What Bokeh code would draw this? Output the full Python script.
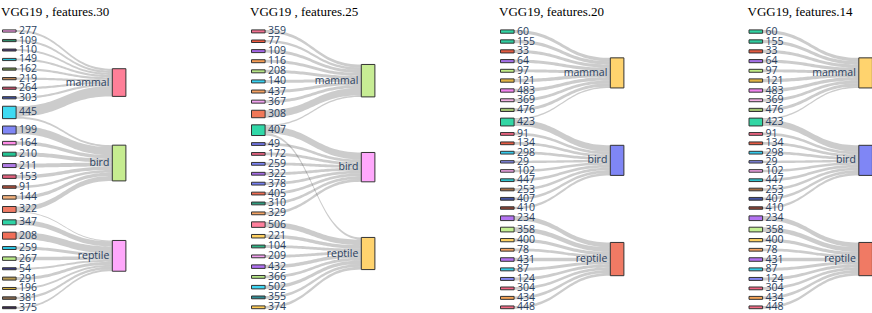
import numpy as np
from bokeh.plotting import figure
from bokeh.models import Range1d
from bokeh.core.properties import value
from bokeh.embed import file_html
from bokeh.resources import INLINE

# ---------------- data ----------------
titles = ["VGG19 , features.30", "VGG19 , features.25", "VGG19, features.20", "VGG19, features.14"]

# Panel 1 : features.30
p1_sources = ["277", "109", "110", "149", "162", "219", "264", "303", "445", "199", "164", "210", "211",
              "153", "91", "144", "322", "347", "208", "259", "267", "54", "291", "196", "381", "375"]
p1_source_colors = ["#ff9ef0", "#2e8a6a", "#4a3a78", "#20bcd6", "#6e8a48", "#c28a58", "#d4506c", "#3a4ea0",
                    "#3fdaf2", "#7f86f5", "#ff8ce8", "#22c493", "#b07be6", "#e0607c", "#b04e3a", "#f4b27c",
                    "#f07a64", "#2ed3a5", "#f06e58", "#2bc3df", "#b9e987", "#3a3a8a", "#b89b52", "#d9b23e",
                    "#8a6a4e", "#3a2a52"]
p1_targets = ["mammal", "bird", "reptile"]
p1_target_colors = ["#ff7f98", "#c6ec90", "#ffa8fb"]
p1_link_src = ["277", "109", "110", "149", "162", "219", "264", "303", "445", "445", "199", "164", "210", "211",
               "153", "91", "144", "322", "322", "347", "208", "259", "267", "54", "291", "196", "381", "375"]
p1_link_tgt = ["mammal"] * 9 + ["bird"] * 9 + ["reptile"] * 10
p1_link_val = [2.2, 2.2, 2.0, 2.2, 2.2, 2.2, 2.2, 2.2, 10.5, 2.0, 8.0, 3.5, 4.0, 4.0,
               3.5, 2.5, 3.5, 5.0, 1.0, 5.0, 7.0, 3.0, 3.5, 2.0, 3.0, 2.0, 2.5, 2.0]

# Panel 2 : features.25
p2_sources = ["359", "77", "109", "116", "208", "140", "437", "367", "308", "407", "49", "172", "259", "322",
              "378", "405", "310", "329", "506", "221", "104", "209", "432", "366", "502", "355", "374"]
p2_source_colors = ["#f07090", "#f05a40", "#a466e6", "#f59c55", "#b6e585", "#36d2f2", "#f5a060", "#f2a2f0",
                    "#f07858", "#31d8a8", "#6f74e4", "#e4607e", "#7a82f2", "#a46ae4", "#747ef0", "#f06a50",
                    "#2e9a7c", "#f4a262", "#ff7f9c", "#ffd060", "#2eb384", "#f4a0f0", "#b070f2", "#b4e484",
                    "#3ed6f2", "#2f8a92", "#ffcc55"]
p2_targets = ["mammal", "bird", "reptile"]
p2_target_colors = ["#c7ec94", "#ffa8fc", "#ffd36e"]
p2_link_src = ["359", "77", "109", "116", "208", "140", "437", "367", "308", "407",
               "407", "49", "172", "259", "322", "378", "405", "310", "329",
               "407", "506", "221", "104", "209", "432", "366", "502", "355", "374"]
p2_link_tgt = ["mammal"] * 10 + ["bird"] * 9 + ["reptile"] * 10
p2_link_val = [3.0, 2.5, 3.0, 3.0, 3.0, 3.0, 3.0, 3.0, 7.5, 1.5,
               7.0, 2.8, 2.8, 2.8, 2.8, 2.8, 2.8, 2.8, 2.8,
               2.2, 5.5, 3.5, 2.8, 2.8, 3.5, 2.8, 3.5, 2.8, 2.8]

# Panel 3 : features.20
p3_sources = ["60", "155", "33", "64", "97", "121", "483", "369", "476", "423", "91", "134", "298", "29", "102",
              "447", "253", "407", "410", "234", "358", "400", "78", "431", "87", "124", "304", "434", "448"]
p3_source_colors = ["#30d4a2", "#2fcc9e", "#e25a40", "#a470e6", "#c2ee86", "#e2b444", "#f284f0", "#f2b2e4",
                    "#a2c272", "#32d6a4", "#f26482", "#e45a42", "#34c8ea", "#8286e6", "#f2a4e6", "#30c2cc",
                    "#a06c44", "#4454a2", "#904434", "#b474f2", "#c4f094", "#ffd262", "#f5a462", "#b472f0",
                    "#34cce4", "#8488f2", "#f26482", "#f5a456", "#f26a84"]
p3_targets = ["mammal", "bird", "reptile"]
p3_target_colors = ["#ffd36e", "#7f86f5", "#f07a64"]
p3_link_src = ["60", "155", "33", "64", "97", "121", "483", "369", "476", "423",
               "423", "91", "134", "298", "29", "102", "447", "253", "407", "410",
               "234", "358", "400", "78", "431", "87", "124", "304", "434", "448"]
p3_link_tgt = ["mammal"] * 10 + ["bird"] * 10 + ["reptile"] * 10
p3_link_val = [3.4, 3.4, 3.2, 3.2, 3.0, 3.4, 3.4, 3.0, 3.2, 1.5,
               6.5, 2.8, 2.8, 2.8, 2.4, 2.6, 2.8, 2.7, 2.8, 2.5,
               4.8, 4.8, 3.3, 2.8, 3.6, 3.0, 3.0, 2.8, 3.0, 2.8]

# Panel 4 : features.14 (same assignments as features.20)
p4_sources = list(p3_sources)
p4_source_colors = list(p3_source_colors)
p4_targets = list(p3_targets)
p4_target_colors = list(p3_target_colors)
p4_link_src = list(p3_link_src)
p4_link_tgt = list(p3_link_tgt)
p4_link_val = list(p3_link_val)

panels = [
    (p1_sources, p1_source_colors, p1_targets, p1_target_colors, p1_link_src, p1_link_tgt, p1_link_val),
    (p2_sources, p2_source_colors, p2_targets, p2_target_colors, p2_link_src, p2_link_tgt, p2_link_val),
    (p3_sources, p3_source_colors, p3_targets, p3_target_colors, p3_link_src, p3_link_tgt, p3_link_val),
    (p4_sources, p4_source_colors, p4_targets, p4_target_colors, p4_link_src, p4_link_tgt, p4_link_val),
]

# ---------------- layout constants ----------------
PANEL_X = [2.0, 251.0, 500.0, 748.5]
NODE_W = 13.6
TGT_DX = 109.8
TOP, BOTTOM = 29.4, 308.2
PADK = 192.0
LABEL_FONT = value("Open Sans")
LABEL_SIZE = "10.5px"
LABEL_COLOR = "#2a3f5f"
LABEL_DY = -1.0

p = figure(width=872, height=313, x_range=Range1d(0, 872), y_range=Range1d(313, 0),
           output_backend="svg", toolbar_location=None, min_border=0,
           x_axis_location=None, y_axis_location=None)
p.grid.visible = False
p.outline_line_color = None
p.background_fill_color = "white"

t = np.linspace(0, 1, 40)
b0 = (1 - t) ** 3 + 3 * (1 - t) ** 2 * t
b1 = 3 * (1 - t) * t ** 2 + t ** 3
bx_mid = 3 * (1 - t) ** 2 * t + 3 * (1 - t) * t ** 2


def bez(xa, ya, xb, yb):
    xm = (xa + xb) / 2
    xs = (1 - t) ** 3 * xa + bx_mid * xm + t ** 3 * xb
    ys = b0 * ya + b1 * yb
    return xs, ys


for k, (srcs, scols, tgts, tcols, lsrc, ltgt, lval) in enumerate(panels):
    x0 = PANEL_X[k]
    xs_r = x0 + NODE_W
    xt_l = x0 + TGT_DX
    n = len(srcs)
    pad = PADK / n
    sv = {s: 0.0 for s in srcs}
    tv = {tt: 0.0 for tt in tgts}
    for s, tt, v in zip(lsrc, ltgt, lval):
        sv[s] += v
        tv[tt] += v
    ky = (BOTTOM - TOP - (n - 1) * pad) / sum(sv.values())

    # source column: stacked
    sy0, sy1 = {}, {}
    y = TOP
    for s in srcs:
        sy0[s] = y
        sy1[s] = y + sv[s] * ky
        y = sy1[s] + pad

    # target column: weighted average of source centres, then collision resolution
    ty0 = {}
    for tt in tgts:
        num = sum(v * (sy0[s] + sy1[s]) / 2 for s, t2, v in zip(lsrc, ltgt, lval) if t2 == tt)
        c = num / tv[tt]
        ty0[tt] = c - tv[tt] * ky / 2
    order = sorted(tgts, key=lambda q: ty0[q])
    yy = TOP
    for tt in order:
        if ty0[tt] < yy:
            ty0[tt] = yy
        yy = ty0[tt] + tv[tt] * ky + pad
    over = yy - pad - BOTTOM
    if over > 0:
        yy = BOTTOM
        for tt in reversed(order):
            h = tv[tt] * ky
            if ty0[tt] + h > yy:
                ty0[tt] = yy - h
            yy = ty0[tt] - pad
    ty1 = {tt: ty0[tt] + tv[tt] * ky for tt in tgts}

    # link offsets
    links = list(zip(lsrc, ltgt, lval))
    s_off = {s: sy0[s] for s in srcs}
    t_off = {tt: ty0[tt] for tt in tgts}
    link_src_pos = {}
    for s in srcs:
        mine = sorted([i for i, L in enumerate(links) if L[0] == s], key=lambda i: ty0[links[i][1]])
        for i in mine:
            link_src_pos[i] = s_off[s]
            s_off[s] += links[i][2] * ky
    link_tgt_pos = {}
    for tt in tgts:
        mine = sorted([i for i, L in enumerate(links) if L[1] == tt], key=lambda i: sy0[links[i][0]])
        for i in mine:
            link_tgt_pos[i] = t_off[tt]
            t_off[tt] += links[i][2] * ky

    pxs, pys = [], []
    for i, (s, tt, v) in enumerate(links):
        w = v * ky
        ya, yb = link_src_pos[i], link_tgt_pos[i]
        xa1, ya1 = bez(xs_r, ya, xt_l, yb)
        xa2, ya2 = bez(xs_r, ya + w, xt_l, yb + w)
        pxs.append(list(xa1) + list(xa2[::-1]))
        pys.append(list(ya1) + list(ya2[::-1]))
    p.patches(pxs, pys, fill_color="black", fill_alpha=0.2, line_color=None)

    # nodes
    p.quad(left=[x0] * n, right=[xs_r] * n, top=[sy0[s] for s in srcs], bottom=[sy1[s] for s in srcs],
           fill_color=scols, line_color="#333333", line_width=1)
    p.quad(left=[xt_l] * len(tgts), right=[xt_l + NODE_W] * len(tgts), top=[ty0[q] for q in tgts],
           bottom=[ty1[q] for q in tgts], fill_color=tcols, line_color="#333333", line_width=1)

    # labels
    p.text(x=[xs_r + 3] * n, y=[(sy0[s] + sy1[s]) / 2 + LABEL_DY for s in srcs], text=srcs,
           text_font=LABEL_FONT, text_font_size=LABEL_SIZE, text_color=LABEL_COLOR,
           text_align="left", text_baseline="middle")
    p.text(x=[xt_l - 3] * len(tgts), y=[(ty0[q] + ty1[q]) / 2 + LABEL_DY for q in tgts], text=tgts,
           text_font=LABEL_FONT, text_font_size=LABEL_SIZE, text_color=LABEL_COLOR,
           text_align="right", text_baseline="middle")

    # title
    p.text(x=[x0 - 1.5], y=[10.8], text=[titles[k]], text_font=value("Liberation Serif"),
           text_font_size="13px", text_color="black", text_align="left", text_baseline="alphabetic")

open("out.html", "w").write(file_html(p, INLINE))
